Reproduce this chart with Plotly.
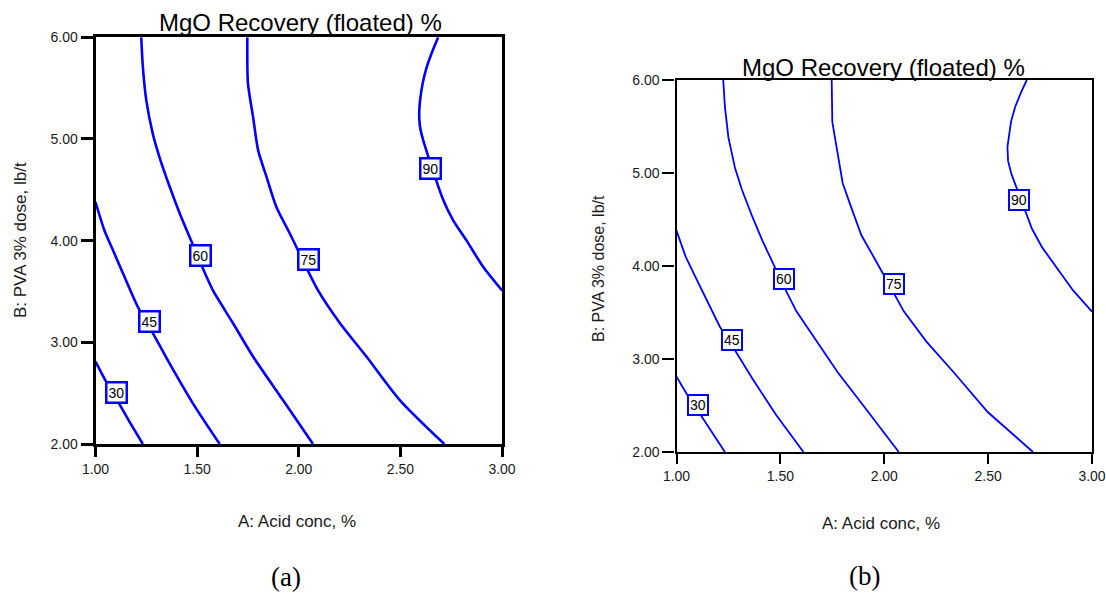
import plotly.graph_objects as go

W, H = 1106, 593

# Contour levels of MgO recovery (floated) %, traced as (A: acid conc, B: PVA dose) points
levels = [30, 45, 60, 75, 90]

c30_a = [1.000, 1.053, 1.110, 1.167, 1.233]
c30_b = [2.81, 2.61, 2.42, 2.22, 2.00]

c45_a = [1.000, 1.044, 1.085, 1.135, 1.208, 1.274, 1.365, 1.479, 1.611]
c45_b = [4.38, 4.10, 3.91, 3.68, 3.35, 3.12, 2.79, 2.40, 2.00]

c60_a = [1.225, 1.233, 1.250, 1.282, 1.315, 1.365, 1.414, 1.479, 1.521, 1.578, 1.676, 1.775, 1.923, 2.070]
c60_b = [6.00, 5.71, 5.38, 5.05, 4.82, 4.53, 4.27, 3.96, 3.76, 3.51, 3.19, 2.86, 2.43, 2.00]

c75_a = [1.747, 1.750, 1.775, 1.800, 1.841, 1.890, 1.956, 2.095, 2.202, 2.333, 2.498, 2.716]
c75_b = [6.00, 5.55, 5.22, 4.89, 4.63, 4.33, 4.07, 3.51, 3.19, 2.86, 2.43, 2.00]

c90_a = [2.686, 2.659, 2.630, 2.610, 2.593, 2.596, 2.612, 2.711, 2.760, 2.826, 2.908, 3.000]
c90_b = [6.00, 5.87, 5.71, 5.55, 5.28, 5.13, 4.99, 4.40, 4.20, 4.00, 3.74, 3.51]

contours = [(c30_a, c30_b), (c45_a, c45_b), (c60_a, c60_b), (c75_a, c75_b), (c90_a, c90_b)]

# Positions of the level labels on each curve
label_a = [1.105, 1.266, 1.517, 2.046, 2.650]
label_b = [2.51, 3.20, 3.857, 3.81, 4.71]

x_ticks = [1.0, 1.5, 2.0, 2.5, 3.0]
y_ticks = [2.0, 3.0, 4.0, 5.0, 6.0]
x_ticktext = ["1.00", "1.50", "2.00", "2.50", "3.00"]
y_ticktext = ["2.00", "3.00", "4.00", "5.00", "6.00"]

title_text = "MgO Recovery (floated) %"
x_title = "A: Acid conc, %"
y_title = "B: PVA 3% dose, lb/t"
panel_tags = ["(a)", "(b)"]

BLUE = "#0000ff"
SANS = "Liberation Sans, Arial"


def px_x(p):
    return p / W


def px_y(p):
    return 1 - p / H


# plot-area boxes in pixels: left, right, top, bottom
boxes = [(95.5, 502.0, 37.3, 444.0), (676.5, 1092.0, 80.0, 452.0)]
line_w = [2.6, 1.8]
frame_w = [2.8, 2.4]

fig = go.Figure()
layout_axes = {}
annotations = []

for i, (l, r, t, b) in enumerate(boxes):
    xa = "x" if i == 0 else "x2"
    ya = "y" if i == 0 else "y2"
    for (ca, cb) in contours:
        fig.add_trace(go.Scatter(
            x=ca, y=cb, xaxis=xa, yaxis=ya, mode="lines",
            line=dict(color=BLUE, width=line_w[i],
                      shape="spline" if i == 0 else "linear", smoothing=0.7),
            hoverinfo="skip", showlegend=False, cliponaxis=True))

    common = dict(showline=True, mirror=True, linecolor="black", linewidth=frame_w[i],
                  ticks="outside", tickcolor="black", tickwidth=frame_w[i],
                  showgrid=False, zeroline=False, automargin=False,
                  tickfont=dict(family=SANS, size=14, color="#1a1a1a"))
    layout_axes["xaxis" if i == 0 else "xaxis2"] = dict(
        common, domain=[px_x(l), px_x(r)], range=[1, 3], anchor=ya,
        tickvals=x_ticks, ticktext=x_ticktext, ticklen=10)
    layout_axes["yaxis" if i == 0 else "yaxis2"] = dict(
        common, domain=[px_y(b), px_y(t)], range=[2, 6], anchor=xa,
        tickvals=y_ticks, ticktext=y_ticktext, ticklen=12)

    for lv, la, lb in zip(levels, label_a, label_b):
        annotations.append(dict(
            x=la, y=lb, xref=xa, yref=ya, text=str(lv), showarrow=False,
            font=dict(family=SANS, size=14, color="black"),
            bgcolor="white", bordercolor=BLUE, borderwidth=2.5 if i == 0 else 2,
            borderpad=1))

# titles and axis captions
title_pos = [(300.5, 22.5), (883.5, 67.0)]
xt_pos = [(297, 521), (881, 523)]
yt_pos = [(20, 240), (598, 269)]
tag_pos = [(285.5, 577), (864, 576)]
for i in range(2):
    annotations.append(dict(x=px_x(title_pos[i][0]), y=px_y(title_pos[i][1]), xref="paper", yref="paper",
                            text=title_text, showarrow=False, xanchor="center", yanchor="middle",
                            font=dict(family=SANS, size=24, color="black")))
    annotations.append(dict(x=px_x(xt_pos[i][0]), y=px_y(xt_pos[i][1]), xref="paper", yref="paper",
                            text=x_title, showarrow=False, xanchor="center", yanchor="middle",
                            font=dict(family=SANS, size=17, color="#1a1a1a")))
    annotations.append(dict(x=px_x(yt_pos[i][0]), y=px_y(yt_pos[i][1]), xref="paper", yref="paper",
                            text=y_title, showarrow=False, xanchor="center", yanchor="middle",
                            textangle=-90,
                            font=dict(family=SANS, size=17 if i == 0 else 16, color="#1a1a1a")))
    annotations.append(dict(x=px_x(tag_pos[i][0]), y=px_y(tag_pos[i][1]), xref="paper", yref="paper",
                            text=panel_tags[i], showarrow=False, xanchor="center", yanchor="middle",
                            font=dict(family="Liberation Serif, Times New Roman", size=27, color="black")))

fig.update_layout(
    width=W, height=H, margin=dict(l=0, r=0, t=0, b=0),
    paper_bgcolor="white", plot_bgcolor="white",
    annotations=annotations, **layout_axes)

fig.write_html("out.html")
